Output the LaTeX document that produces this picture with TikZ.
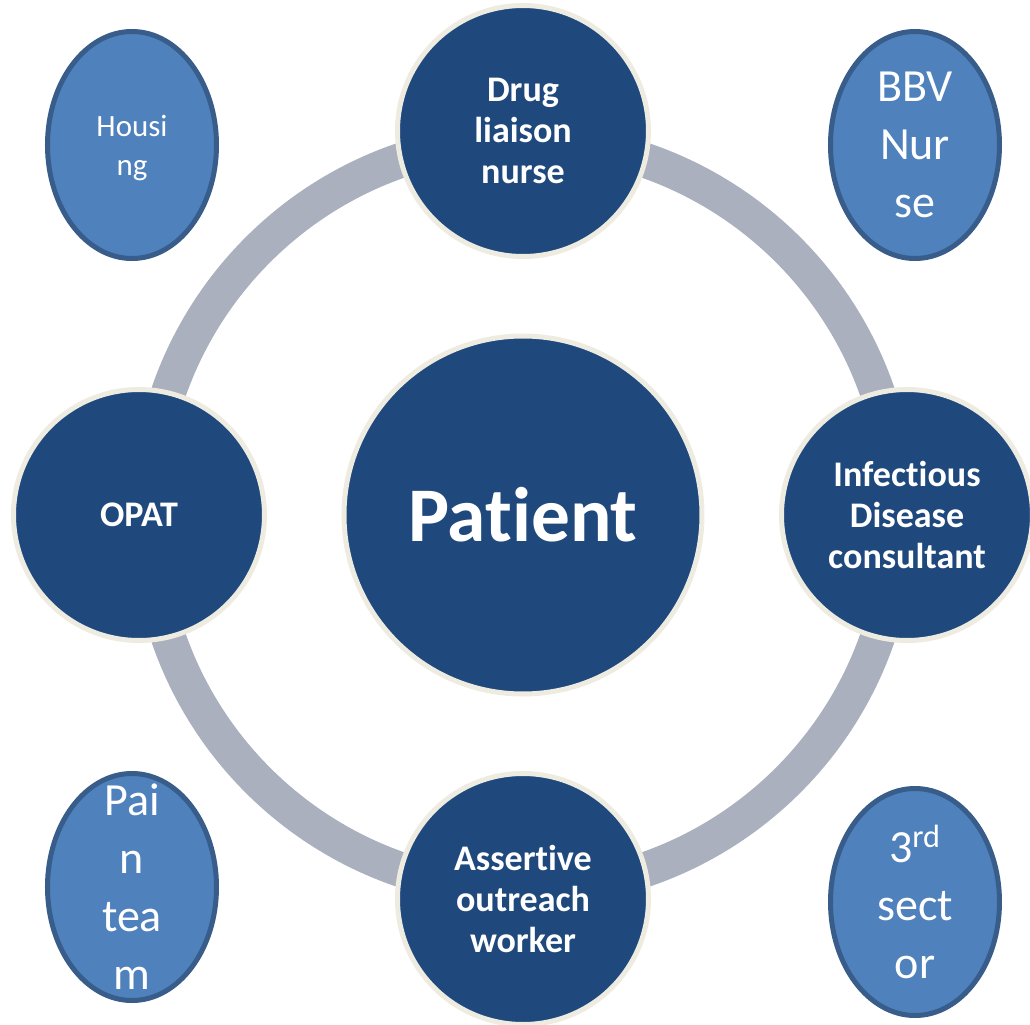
\documentclass[tikz,border=0pt]{standalone}
\usepackage{fontspec}
\setmainfont{Carlito}[Ligatures=NoCommon]
\usetikzlibrary{shapes.geometric,backgrounds}

\definecolor{hubblue}{RGB}{31,73,125}
\definecolor{hubrim}{RGB}{238,236,225}
\definecolor{ringgray}{RGB}{171,176,191}
\definecolor{sideblue}{RGB}{79,129,189}
\definecolor{siderim}{RGB}{56,93,138}

\tikzset{
  member/.style={circle,fill=hubblue,draw=hubrim,line width=2.85pt,minimum size=5.02cm,
    inner sep=0pt,align=center,text=white,font=\fontsize{20.5}{23.5}\selectfont\bfseries},
  hub/.style={member,minimum size=7.16cm,font=\fontsize{44}{50}\selectfont\bfseries},
  ringline/.style={draw=ringgray,line width=0.7cm},
  side/.style={ellipse,fill=sideblue,draw=siderim,line width=2.85pt,
    minimum width=3.38cm,minimum height=4.54cm,inner sep=0pt},
  sidetext/.style={align=center,text=white,inner sep=0pt},
  sidesmall/.style={sidetext,font=\fontsize{17.6}{22.4}\selectfont},
  sidebig/.style={sidetext,font=\fontsize{26.2}{33}\selectfont}
}

\begin{document}
\begin{tikzpicture}
  \useasboundingbox (-10.46,-10.18) rectangle (10.14,10.30);
  \node[hub] (patient) at (0,0) {Patient};
  \node[member] (drug) at (90:7.68) {Drug\\liaison\\nurse};
  \node[member] (opat) at (180:7.68) {OPAT};
  \node[member] (infect) at (0:7.68) {Infectious\\Disease\\consultant};
  \node[member] (outreach) at (270:7.68) {Assertive\\outreach\\worker};
  \begin{scope}[on background layer]
    \draw[ringline] (patient) circle[radius=7.5];
  \end{scope}
  % services around the team
  \node[side] (housing) at (-7.82,7.40) {};
  \node[sidesmall] (housing-text) at ([yshift=-0.06cm]housing) {Housi\\ng};
  \node[side] (bbv) at (7.84,7.40) {};
  \node[sidebig] (bbv-text) at (bbv) {BBV\\Nur\\se};
  \node[side] (pain) at (-7.82,-7.44) {};
  \node[sidebig] (pain-text) at (pain) {Pai\\n\\tea\\m};
  \node[side] (third) at (7.84,-7.74) {};
  \node[sidebig] (third-text) at (third) {3\textsuperscript{rd}\\sect\\or};
\end{tikzpicture}
\end{document}
